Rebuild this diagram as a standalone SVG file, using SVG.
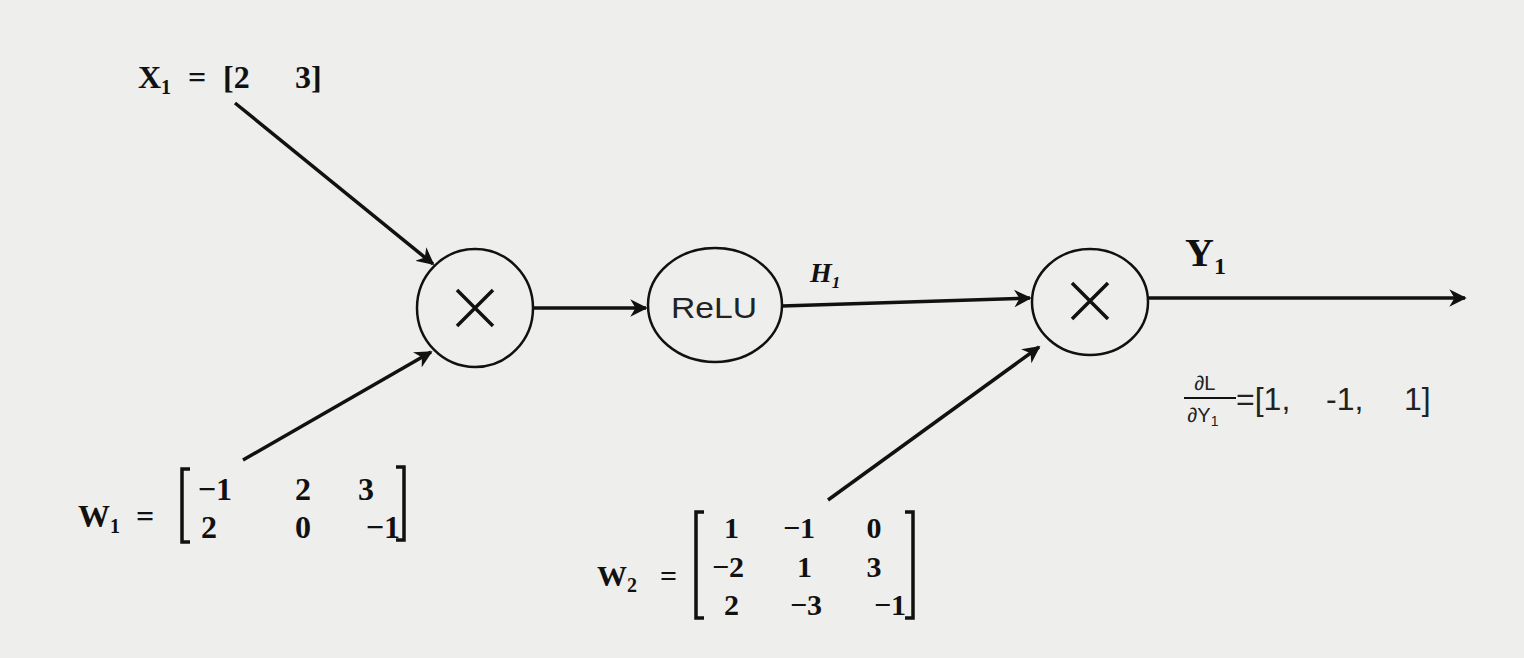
<svg xmlns="http://www.w3.org/2000/svg" width="1524" height="658" viewBox="0 0 1524 658">
<style>
.bg{fill:#eeeeec}
.node{fill:none;stroke:#111;stroke-width:2.5}
.edge{stroke:#111;stroke-width:3.5;fill:none}
.t{font-family:"Liberation Serif",serif;font-weight:bold;fill:#111}
.s{font-family:"Liberation Sans",sans-serif;fill:#222}
</style>
<defs>
<marker id="ah" viewBox="0 0 10 10" refX="9" refY="5" markerWidth="5" markerHeight="5" orient="auto" markerUnits="strokeWidth">
<path d="M0,0 L10,5 L0,10 L3,5 Z" fill="#111"/>
</marker>
</defs>
<rect class="bg" x="0" y="0" width="1524" height="658"/>
<g id="connectors">
<line class="edge" x1="235" y1="103" x2="433" y2="264" marker-end="url(#ah)"/>
<line class="edge" x1="243" y1="460" x2="431" y2="352" marker-end="url(#ah)"/>
<line class="edge" x1="533" y1="308" x2="646" y2="308" marker-end="url(#ah)"/>
<line class="edge" x1="782" y1="306" x2="1030" y2="298" marker-end="url(#ah)"/>
<line class="edge" x1="828" y1="500" x2="1039" y2="347" marker-end="url(#ah)"/>
<line class="edge" x1="1148" y1="298" x2="1465" y2="298" marker-end="url(#ah)"/>
</g>
<g id="mul1">
<ellipse class="node" cx="475" cy="308" rx="58" ry="59"/>
<path d="M457,290 L493,326 M493,290 L457,326" stroke="#111" stroke-width="3.5"/>
</g>
<g id="relu">
<ellipse class="node" cx="715" cy="305" rx="67" ry="57"/>
<text class="s" x="714" y="318" font-size="30" text-anchor="middle" textLength="86" lengthAdjust="spacingAndGlyphs">ReLU</text>
</g>
<g id="mul2">
<ellipse class="node" cx="1090" cy="302" rx="58" ry="53"/>
<path d="M1072,283 L1108,319 M1108,283 L1072,319" stroke="#111" stroke-width="3.5"/>
</g>
<g id="x1">
<text class="t" y="88" font-size="32"><tspan x="138">X</tspan><tspan font-size="20" dy="6">1</tspan><tspan x="188" dy="-6">=</tspan><tspan x="223">[2</tspan><tspan x="295">3]</tspan></text>
</g>
<g id="w1">
<text class="t" y="527" font-size="32"><tspan x="78">W</tspan><tspan font-size="20" dy="6">1</tspan><tspan x="136" dy="-6">=</tspan></text>
<path d="M190,469 L182,469 L182,542 L190,542" stroke="#111" stroke-width="3.5" fill="none"/>
<path d="M396,467 L404,467 L404,540 L396,540" stroke="#111" stroke-width="3.5" fill="none"/>
<text class="t" font-size="32" text-anchor="end">
<tspan x="232" y="500">−1</tspan><tspan x="311" y="500">2</tspan><tspan x="382" y="500">3</tspan>
<tspan x="217" y="538">2</tspan><tspan x="311" y="538">0</tspan><tspan x="400" y="538">−1</tspan>
</text>
</g>
<g id="w2">
<text class="t" y="586" font-size="30"><tspan x="597">W</tspan><tspan font-size="20" dy="6">2</tspan><tspan x="660" dy="-6">=</tspan></text>
<path d="M704,512 L696,512 L696,618 L704,618" stroke="#111" stroke-width="3.5" fill="none"/>
<path d="M905,512 L913,512 L913,618 L905,618" stroke="#111" stroke-width="3.5" fill="none"/>
<text class="t" font-size="30" text-anchor="end">
<tspan x="739" y="538">1</tspan><tspan x="815" y="538">−1</tspan><tspan x="889" y="538">0</tspan>
<tspan x="744" y="577">−2</tspan><tspan x="812" y="577">1</tspan><tspan x="889" y="577">3</tspan>
<tspan x="739" y="615">2</tspan><tspan x="822" y="615">−3</tspan><tspan x="906" y="615">−1</tspan>
</text>
</g>
<g id="h1">
<text class="t" x="810" y="282" font-size="28" font-style="italic">H<tspan font-size="17" dy="6">1</tspan></text>
</g>
<g id="y1">
<text class="t" x="1185" y="266" font-size="40">Y<tspan font-size="24" dy="8">1</tspan></text>
</g>
<g id="grad">
<text class="s" x="1205" y="390" font-size="20" text-anchor="middle">∂L</text>
<line x1="1184" y1="398" x2="1236" y2="398" stroke="#111" stroke-width="2"/>
<text class="s" x="1203" y="422" font-size="20" text-anchor="middle">∂Y<tspan font-size="14" dy="4">1</tspan></text>
<text class="s" y="410" font-size="32"><tspan x="1236">=[1,</tspan><tspan x="1326">-1,</tspan><tspan x="1404">1]</tspan></text>
</g>
</svg>
